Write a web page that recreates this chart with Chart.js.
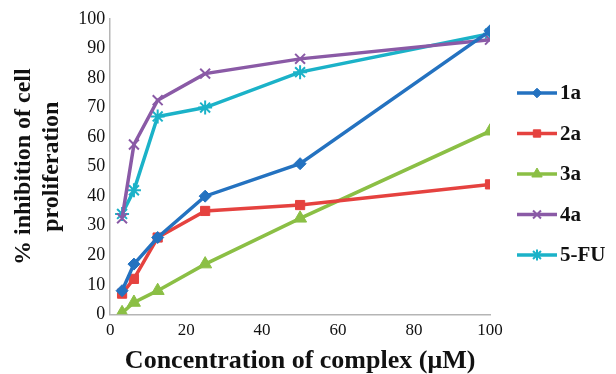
<!DOCTYPE html>
<html>
<head>
<meta charset="utf-8">
<script src="https://cdn.jsdelivr.net/npm/chart.js@4.4.0/dist/chart.umd.min.js"></script>
<style>
html,body{margin:0;padding:0;background:#fff;}
#wrap{width:616px;height:374px;position:relative;}
</style>
</head>
<body>
<div id="wrap"><canvas id="c" width="616" height="374"></canvas></div>
<script>
const concentrations = [3.125, 6.25, 12.5, 25, 50, 100];
const seriesNames = ['1a', '2a', '3a', '4a', '5-FU'];
const values1a = [8, 17, 26, 40, 51, 96];
const values2a = [7, 12, 26, 35, 37, 44];
const values3a = [0.5, 4, 8, 17, 32.5, 62];
const values4a = [32.5, 57.5, 72.5, 81.5, 86.5, 93];
const values5FU = [34, 42, 67, 70, 82, 95];
const yTicks = [0,10,20,30,40,50,60,70,80,90,100];
const xTicks = [0,20,40,60,80,100];

const colors = ['#2472c0', '#e5423f', '#8bbf45', '#8a5aa6', '#1bb2c8'];
const styles = ['rectRot', 'rect', 'triangle', 'crossRot', 'star'];
const radii = [6, 6.5, 7.5, 7, 7];
const allValues = [values1a, values2a, values3a, values4a, values5FU];

const datasets = allValues.map((vals, i) => ({
  label: seriesNames[i],
  data: concentrations.map((x, j) => ({x: x, y: vals[j]})),
  borderColor: colors[i],
  backgroundColor: colors[i],
  pointBorderColor: colors[i],
  pointBackgroundColor: colors[i],
  pointStyle: styles[i],
  pointRadius: radii[i],
  pointBorderWidth: (styles[i] === 'crossRot' || styles[i] === 'star') ? 2 : 1,
  borderWidth: 3.5,
  tension: 0,
  fill: false
}));

const legendPlugin = {
  id: 'sideLegend',
  afterDraw(chart) {
    const ctx = chart.ctx;
    const x0 = 517, x1 = 557, y0 = 93, dy = 40.5;
    chart.data.datasets.forEach((ds, i) => {
      const y = y0 + i * dy;
      ctx.save();
      ctx.strokeStyle = ds.borderColor;
      ctx.lineWidth = 3.5;
      ctx.beginPath();
      ctx.moveTo(x0, y);
      ctx.lineTo(x1, y);
      ctx.stroke();
      ctx.fillStyle = ds.borderColor;
      ctx.lineWidth = ds.pointBorderWidth;
      Chart.helpers.drawPoint(ctx, {pointStyle: ds.pointStyle, radius: ds.pointRadius * 0.8, borderWidth: ds.pointBorderWidth, rotation: 0}, (x0 + x1) / 2, y);
      ctx.fillStyle = '#111';
      ctx.font = 'bold 21px "Liberation Serif"';
      ctx.textBaseline = 'middle';
      ctx.textAlign = 'left';
      ctx.fillText(ds.label, x1 + 3, y + 1);
      ctx.restore();
    });
  }
};

new Chart(document.getElementById('c'), {
  type: 'line',
  data: { datasets: datasets },
  options: {
    responsive: false,
    animation: false,
    devicePixelRatio: 1,
    layout: { padding: { left: 10, right: 126, top: 19, bottom: 0 } },
    plugins: { legend: { display: false }, tooltip: { enabled: false } },
    scales: {
      x: {
        type: 'linear',
        min: 0, max: 100,
        afterBuildTicks: (s) => { s.ticks = xTicks.map(v => ({value: v})); },
        grid: { display: true, drawOnChartArea: false, drawTicks: false },
        border: { display: true, color: '#b5b5b5', width: 1.5 },
        ticks: { color: '#111', padding: 7, font: { family: '"Liberation Serif"', size: 17, lineHeight: 1.1 } },
        title: { display: true, text: 'Concentration of complex (μM)', color: '#111',
          font: { family: '"Liberation Serif"', size: 26, weight: 'bold', lineHeight: 1.0 }, padding: { top: 1, bottom: 0 } }
      },
      y: {
        min: 0, max: 100,
        afterBuildTicks: (s) => { s.ticks = yTicks.map(v => ({value: v})); },
        grid: { display: true, drawOnChartArea: false, drawTicks: false },
        border: { display: true, color: '#b5b5b5', width: 1.5 },
        ticks: { color: '#111', padding: 5, font: { family: '"Liberation Serif"', size: 18 } },
        title: { display: true, text: ['% inhibition of cell', 'proliferation'], color: '#111',
          font: { family: '"Liberation Serif"', size: 24, weight: 'bold', lineHeight: 1.15 }, padding: { top: 0, bottom: 8 } }
      }
    }
  },
  plugins: [legendPlugin]
});
</script>
</body>
</html>
